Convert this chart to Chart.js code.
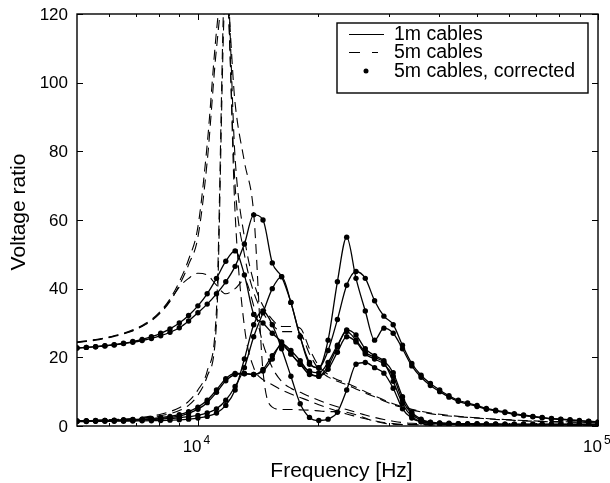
<!DOCTYPE html>
<html>
<head>
<meta charset="utf-8">
<script src="https://cdn.jsdelivr.net/npm/chart.js@4"></script>
<style>
  html, body { margin: 0; padding: 0; background: #fff; }
  canvas { display: block; }
</style>
</head>
<body>
<canvas id="myChart" width="610" height="483"></canvas>
<script>
// sampling frequencies (Hz) of the measured responses, one per corrected-data dot
const freqs = [5000, 5275, 5564, 5870, 6192, 6533, 6891, 7270, 7669, 8090,
  8535, 9004, 9498, 10020, 10570, 11151, 11763, 12410, 13091, 13810,
  14569, 15369, 16214, 17104, 18044, 19035, 20080, 21183, 22347, 23575,
  24870, 26236, 27677, 29197, 30801, 32493, 34278, 36160, 38147, 40242,
  42453, 44785, 47245, 49887, 52628, 55519, 58569, 61786, 65180, 68760,
  72537, 76522, 80725, 85160, 89838, 94773, 100000];

// 1m cables (solid)
const cable1mA = [22.7, 22.9, 23.1, 23.4, 23.7, 24.1, 24.6, 25.2, 26.0, 27.0,
  28.3, 30.0, 32.2, 35.0, 38.5, 43.0, 48.0, 51.0, 44.0, 32.5,
  30.0, 27.0, 24.5, 21.0, 18.0, 16.0, 15.5, 18.5, 23.5, 27.5,
  25.0, 21.5, 20.0, 18.5, 13.0, 6.5, 2.8, 1.3, 0.8, 0.6,
  0.5, 0.45, 0.4, 0.4, 0.35, 0.35, 0.3, 0.3, 0.3, 0.3,
  0.3, 0.3, 0.3, 0.3, 0.3, 0.3, 0.3];
const cable1mB = [22.7, 22.9, 23.1, 23.3, 23.6, 24.0, 24.4, 24.9, 25.5, 26.3,
  27.3, 28.6, 30.6, 33.0, 35.5, 38.5, 42.0, 46.5, 53.0, 61.5,
  60.0, 47.5, 43.5, 36.0, 26.0, 18.5, 17.0, 22.0, 31.0, 41.0,
  45.0, 43.0, 36.5, 32.0, 29.5, 23.5, 18.2, 14.8, 12.4, 10.5,
  8.8, 7.5, 6.7, 6.0, 5.1, 4.6, 4.1, 3.6, 3.2, 2.8,
  2.5, 2.2, 2.0, 1.8, 1.6, 1.4, 1.2];
const cable1mC = [1.4, 1.4, 1.45, 1.5, 1.55, 1.6, 1.7, 1.8, 1.9, 2.0,
  2.2, 2.4, 2.7, 3.1, 3.8, 5.0, 7.5, 11.5, 17.0, 26.0,
  33.0, 40.0, 43.5, 36.0, 26.0, 18.0, 17.0, 25.0, 42.0, 55.0,
  43.0, 33.5, 25.0, 28.5, 27.0, 22.5, 17.5, 14.2, 11.8, 10.0,
  8.4, 7.2, 6.4, 5.7, 4.9, 4.4, 3.9, 3.4, 3.0, 2.7,
  2.4, 2.1, 1.9, 1.7, 1.5, 1.3, 1.1];
const cable1mD = [1.5, 1.55, 1.6, 1.65, 1.7, 1.8, 1.9, 2.0, 2.2, 2.5,
  2.8, 3.3, 4.2, 5.5, 7.5, 10.5, 13.8, 15.3, 15.3, 15.0,
  16.0, 19.5, 24.0, 22.0, 19.0, 15.5, 14.5, 16.5, 21.5, 26.0,
  24.5, 21.0, 19.5, 18.0, 14.5, 7.5, 3.5, 1.7, 1.0, 0.8,
  0.7, 0.65, 0.6, 0.6, 0.55, 0.55, 0.5, 0.5, 0.5, 0.5,
  0.5, 0.5, 0.5, 0.5, 0.5, 0.5, 0.5];
const cable1mE = [1.5, 1.5, 1.55, 1.6, 1.65, 1.7, 1.8, 1.9, 2.0, 2.2,
  2.5, 2.9, 3.7, 4.9, 6.8, 9.8, 13.2, 15.0, 15.2, 15.0,
  16.5, 20.5, 23.5, 21.0, 18.0, 15.0, 14.5, 17.5, 23.0, 28.0,
  26.5, 22.5, 20.5, 19.0, 15.5, 8.5, 4.0, 2.0, 1.1, 0.9,
  0.8, 0.7, 0.7, 0.65, 0.6, 0.6, 0.55, 0.55, 0.55, 0.55,
  0.55, 0.55, 0.55, 0.55, 0.55, 0.55, 0.55];
const cable1mF = [1.3, 1.3, 1.35, 1.35, 1.4, 1.4, 1.45, 1.5, 1.55, 1.6,
  1.7, 1.8, 2.0, 2.3, 2.8, 3.8, 6.0, 10.5, 19.5, 29.5,
  33.5, 29.5, 22.5, 14.5, 6.5, 2.5, 1.6, 2.0, 4.0, 10.5,
  18.0, 18.5, 17.0, 15.4, 11.0, 5.0, 2.3, 1.2, 0.8, 0.6,
  0.5, 0.45, 0.4, 0.4, 0.35, 0.35, 0.3, 0.3, 0.3, 0.3,
  0.3, 0.3, 0.3, 0.3, 0.3, 0.3, 0.3];

// 5m cables (dashed)
const cable5mA = [24.5, 24.8, 25.2, 25.7, 26.3, 27.0, 28.0, 29.3, 31.0, 33.5,
  37.0, 42.0, 48.5, 58.0, 82.0, 115.0, 136.0, 78.0, 55.0, 42.0,
  35.0, 31.0, 29.0, 29.0, 28.5, 22.5, 17.5, 15.0, 13.5, 12.5,
  11.3, 10.0, 8.8, 7.6, 6.5, 5.6, 4.9, 4.3, 3.8, 3.4,
  3.1, 2.8, 2.6, 2.4, 2.2, 2.0, 1.9, 1.75, 1.6, 1.5,
  1.4, 1.3, 1.25, 1.2, 1.1, 1.05, 1.0];
const cable5mB = [24.3, 24.6, 25.0, 25.5, 26.1, 26.8, 27.7, 29.0, 30.6, 33.0,
  36.3, 41.0, 47.0, 55.0, 77.0, 110.0, 130.0, 70.0, 50.0, 39.0,
  33.0, 29.5, 27.5, 27.5, 27.0, 21.0, 16.5, 14.3, 13.0, 12.0,
  10.8, 9.6, 8.5, 7.3, 6.2, 5.4, 4.7, 4.1, 3.6, 3.2,
  2.9, 2.7, 2.5, 2.3, 2.1, 1.9, 1.8, 1.65, 1.5, 1.4,
  1.3, 1.2, 1.15, 1.1, 1.05, 1.0, 0.95];
const cable5mC = [1.5, 1.55, 1.6, 1.7, 1.8, 1.9, 2.1, 2.3, 2.6, 3.0,
  3.6, 4.5, 6.0, 9.0, 14.5, 30.0, 128.0, 94.0, 77.0, 62.0,
  16.0, 5.5, 4.8, 4.8, 4.7, 4.6, 4.4, 4.2, 4.2, 4.0,
  3.3, 2.3, 1.4, 0.8, 0.5, 0.4, 0.35, 0.35, 0.3, 0.3,
  0.3, 0.3, 0.3, 0.3, 0.3, 0.3, 0.3, 0.3, 0.3, 0.3,
  0.3, 0.3, 0.3, 0.3, 0.3, 0.3, 0.3];
const cable5mD = [1.5, 1.55, 1.65, 1.75, 1.85, 2.0, 2.2, 2.5, 2.9, 3.4,
  4.2, 5.3, 7.2, 10.5, 16.0, 34.0, 135.0, 62.0, 29.0, 17.0,
  13.5, 12.0, 10.5, 9.3, 8.3, 7.3, 6.2, 5.2, 4.3, 3.5,
  2.8, 2.1, 1.5, 1.0, 0.7, 0.5, 0.45, 0.4, 0.4, 0.35,
  0.35, 0.35, 0.3, 0.3, 0.3, 0.3, 0.3, 0.3, 0.3, 0.3,
  0.3, 0.3, 0.3, 0.3, 0.3, 0.3, 0.3];
const cable5mE = [24.4, 24.7, 25.1, 25.6, 26.2, 26.9, 27.8, 29.1, 30.8, 33.2,
  36.5, 40.5, 43.0, 44.5, 44.0, 41.0, 38.5, 40.0, 42.5, 35.0,
  24.0, 17.0, 13.0, 11.0, 9.8, 8.6, 7.5, 6.5, 5.6, 4.8,
  4.0, 3.2, 2.5, 1.9, 1.4, 1.0, 0.8, 0.7, 0.6, 0.5,
  0.45, 0.4, 0.4, 0.35, 0.35, 0.3, 0.3, 0.3, 0.3, 0.3,
  0.3, 0.3, 0.3, 0.3, 0.3, 0.3, 0.3];

// 5m cables, corrected (dots) - these land on the 1m curves
const corrected = [cable1mA, cable1mB, cable1mC, cable1mD, cable1mE, cable1mF];

const yTicks = [0, 20, 40, 60, 80, 100, 120];
const xMajorTicks = [10000, 100000];
const xMinorTicks = [6000, 7000, 8000, 9000, 20000, 30000, 40000, 50000, 60000, 70000, 80000, 90000];
const legendLabels = ['1m cables', '5m cables', '5m cables, corrected'];

const FONT = '"Liberation Sans", Arial, Helvetica, sans-serif';

function pts(vals) {
  return freqs.map((f, i) => ({ x: f, y: vals[i] }));
}

const datasets = [];
[cable1mA, cable1mB, cable1mC, cable1mD, cable1mE, cable1mF].forEach(v => {
  datasets.push({ data: pts(v), borderColor: '#000', borderWidth: 1.3, pointRadius: 0,
    cubicInterpolationMode: 'monotone', fill: false });
});
[cable5mA, cable5mB, cable5mC, cable5mD, cable5mE].forEach(v => {
  datasets.push({ data: pts(v), borderColor: '#000', borderWidth: 1.1, borderDash: [10, 6],
    pointRadius: 0, cubicInterpolationMode: 'monotone', fill: false });
});
corrected.forEach(v => {
  datasets.push({ data: pts(v), showLine: false, pointRadius: 2.7, pointBorderWidth: 0,
    pointBackgroundColor: '#000', borderColor: '#000' });
});

const frameAndText = {
  id: 'frameAndText',
  afterDatasetsDraw(chart) {
    const { ctx, chartArea: a, scales: { x, y } } = chart;
    ctx.save();
    ctx.strokeStyle = '#000';
    ctx.fillStyle = '#000';

    // axes box
    ctx.lineWidth = 1.4;
    ctx.strokeRect(a.left, a.top, a.right - a.left, a.bottom - a.top);

    // ticks (inside, matlab style)
    ctx.lineWidth = 1;
    ctx.beginPath();
    yTicks.forEach(v => {
      const py = Math.round(y.getPixelForValue(v)) + 0.5;
      ctx.moveTo(a.left, py); ctx.lineTo(a.left + 6, py);
      ctx.moveTo(a.right - 6, py); ctx.lineTo(a.right, py);
    });
    xMajorTicks.forEach(v => {
      const px = Math.round(x.getPixelForValue(v)) + 0.5;
      ctx.moveTo(px, a.bottom); ctx.lineTo(px, a.bottom - 6);
      ctx.moveTo(px, a.top); ctx.lineTo(px, a.top + 6);
    });
    xMinorTicks.forEach(v => {
      const px = Math.round(x.getPixelForValue(v)) + 0.5;
      ctx.moveTo(px, a.bottom); ctx.lineTo(px, a.bottom - 3);
      ctx.moveTo(px, a.top); ctx.lineTo(px, a.top + 3);
    });
    ctx.stroke();

    // y tick labels
    ctx.font = '17px ' + FONT;
    ctx.textAlign = 'right';
    ctx.textBaseline = 'middle';
    yTicks.forEach(v => ctx.fillText(String(v), a.left - 9, y.getPixelForValue(v) + 1));

    // x tick labels 10^4, 10^5
    xMajorTicks.forEach(v => {
      const px = x.getPixelForValue(v);
      const exp = String(Math.round(Math.log10(v)));
      ctx.textBaseline = 'alphabetic';
      ctx.textAlign = 'right';
      ctx.font = '17px ' + FONT;
      ctx.fillText('10', px + 4, a.bottom + 26);
      ctx.textAlign = 'left';
      ctx.font = '12px ' + FONT;
      ctx.fillText(exp, px + 6, a.bottom + 18);
    });

    // axis titles
    ctx.font = '21px ' + FONT;
    ctx.textAlign = 'center';
    ctx.textBaseline = 'alphabetic';
    ctx.fillText('Frequency [Hz]', (a.left + a.right) / 2 + 4, 477);
    ctx.save();
    ctx.translate(25, 212);
    ctx.rotate(-Math.PI / 2);
    ctx.fillText('Voltage ratio', 0, 0);
    ctx.restore();

    // legend box
    const bx = 337, by = 23, bw = 251, bh = 70;
    ctx.fillStyle = '#fff';
    ctx.fillRect(bx, by, bw, bh);
    ctx.fillStyle = '#000';
    ctx.lineWidth = 1.4;
    ctx.strokeRect(bx, by, bw, bh);
    const rows = [34, 52, 71];
    ctx.lineWidth = 1;
    ctx.beginPath();
    ctx.moveTo(349, rows[0] + 0.5); ctx.lineTo(384, rows[0] + 0.5);
    ctx.stroke();
    ctx.setLineDash([11, 12, 6, 100]);
    ctx.beginPath();
    ctx.moveTo(349, rows[1] + 0.5); ctx.lineTo(384, rows[1] + 0.5);
    ctx.stroke();
    ctx.setLineDash([]);
    ctx.beginPath();
    ctx.arc(366, rows[2], 2.5, 0, Math.PI * 2);
    ctx.fill();
    ctx.font = '19.5px ' + FONT;
    ctx.textAlign = 'left';
    ctx.textBaseline = 'middle';
    legendLabels.forEach((t, i) => ctx.fillText(t, 394, rows[i] + 1));
    ctx.restore();
  }
};

new Chart(document.getElementById('myChart').getContext('2d'), {
  type: 'line',
  data: { datasets: datasets },
  options: {
    responsive: false,
    animation: false,
    devicePixelRatio: 1,
    layout: { padding: { left: 77, right: 12, top: 14, bottom: 57 } },
    scales: {
      x: { type: 'logarithmic', min: 5000, max: 100000, display: false },
      y: { type: 'linear', min: 0, max: 120, display: false }
    },
    plugins: { legend: { display: false }, tooltip: { enabled: false } }
  },
  plugins: [frameAndText]
});
</script>
</body>
</html>
